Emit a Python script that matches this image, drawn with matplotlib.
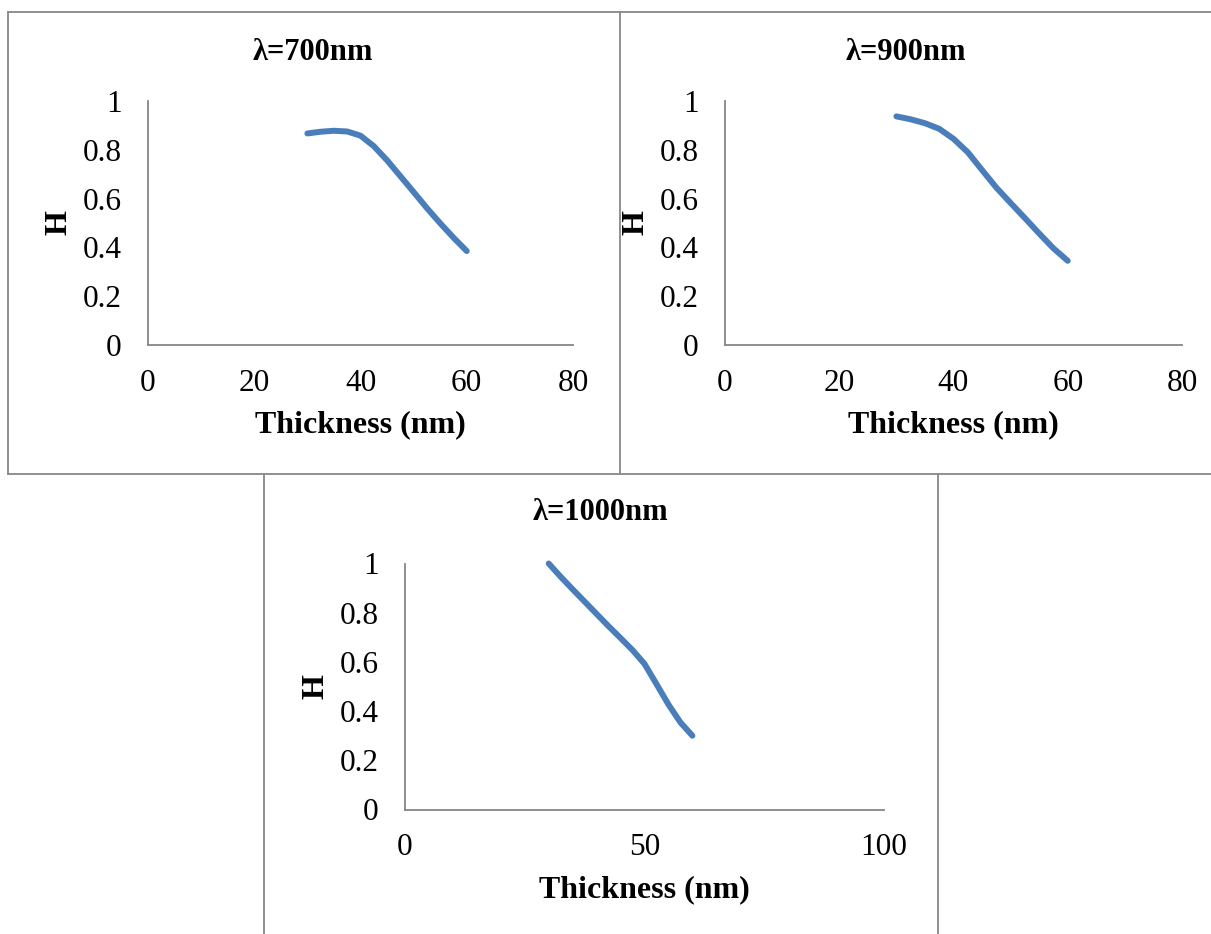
import matplotlib
matplotlib.use('Agg')
import matplotlib.pyplot as plt
from matplotlib.lines import Line2D
from matplotlib.ticker import FuncFormatter

# thickness (nm) and H values
thickness = [30, 32.5, 35, 37.5, 40, 42.5, 45, 47.5, 50, 52.5, 55, 57.5, 60]
h_700 = [0.867, 0.874, 0.878, 0.875, 0.858, 0.815, 0.757, 0.692, 0.627, 0.561, 0.499, 0.44, 0.385]
h_900 = [0.937, 0.925, 0.909, 0.886, 0.845, 0.790, 0.717, 0.645, 0.582, 0.520, 0.457, 0.396, 0.345]
h_1000 = [1.0, 0.946, 0.895, 0.845, 0.795, 0.745, 0.697, 0.648, 0.592, 0.510, 0.427, 0.354, 0.300]

titles = ['λ=700nm', 'λ=900nm', 'λ=1000nm']
x_ticks = [[0, 20, 40, 60, 80], [0, 20, 40, 60, 80], [0, 50, 100]]
y_ticks = [0, 0.2, 0.4, 0.6, 0.8, 1]

W, H = 1211, 934
plt.rcParams['font.family'] = ['Liberation Serif', 'DejaVu Serif']

fig = plt.figure(figsize=(W / 100, H / 100), dpi=100)

blue = '#4a7ebb'
grey = '#888888'
axis_grey = '#868686'


def px_rect(x0, x1, y_top, y_bot):
    return [x0 / W, (H - y_bot) / H, (x1 - x0) / W, (y_bot - y_top) / H]


def fig_line(xs, ys):
    fig.add_artist(Line2D([x / W for x in xs], [1 - y / H for y in ys],
                          color=grey, lw=1.3))


# chart frames
fig_line([7.5, 1211], [12, 12])
fig_line([7.5, 1211], [474, 474])
fig_line([7.5, 7.5], [12, 474])
fig_line([620, 620], [12, 474])
fig_line([264, 264], [474, 934])
fig_line([938, 938], [474, 934])

rects = [px_rect(148, 573, 101, 345),
         px_rect(725, 1182, 101, 345),
         px_rect(405, 884, 563.5, 809.5)]
series = [h_700, h_900, h_1000]
title_pos = [(313, 52), (906, 52), (600, 513)]
ylabel_x = [59, 636, 316]

for i in range(3):
    ax = fig.add_axes(rects[i])
    ax.plot(thickness, series[i], color=blue, lw=4.3,
            solid_capstyle='round', solid_joinstyle='round', clip_on=False)
    ax.set_xlim(x_ticks[i][0], x_ticks[i][-1])
    ax.set_ylim(0, 1)
    ax.set_xticks(x_ticks[i])
    ax.set_yticks(y_ticks)
    ax.yaxis.set_major_formatter(FuncFormatter(lambda v, p: '%g' % v))
    ax.tick_params(length=0, labelsize=22.5, colors='black')
    ax.tick_params(axis='x', pad=17)
    ax.tick_params(axis='y', pad=19)
    for s in ['top', 'right']:
        ax.spines[s].set_visible(False)
    for s in ['left', 'bottom']:
        ax.spines[s].set_color(axis_grey)
        ax.spines[s].set_linewidth(1.3)

    ax.set_xlabel('Thickness (nm)', fontsize=23, fontweight='bold', va='center')
    ax.set_ylabel('H', fontsize=23, fontweight='bold', va='center')
    h_ax = rects[i][3] * H
    w_ax = rects[i][2] * W
    ax.xaxis.set_label_coords(0.5, -80 / h_ax)
    ax.yaxis.set_label_coords(-(rects[i][0] * W - ylabel_x[i]) / w_ax, 0.5)

    tx, ty = title_pos[i]
    fig.text(tx / W, 1 - ty / H, titles[i], fontsize=22, fontweight='bold',
             ha='center', va='center')

fig.savefig('out.png', dpi=100)
